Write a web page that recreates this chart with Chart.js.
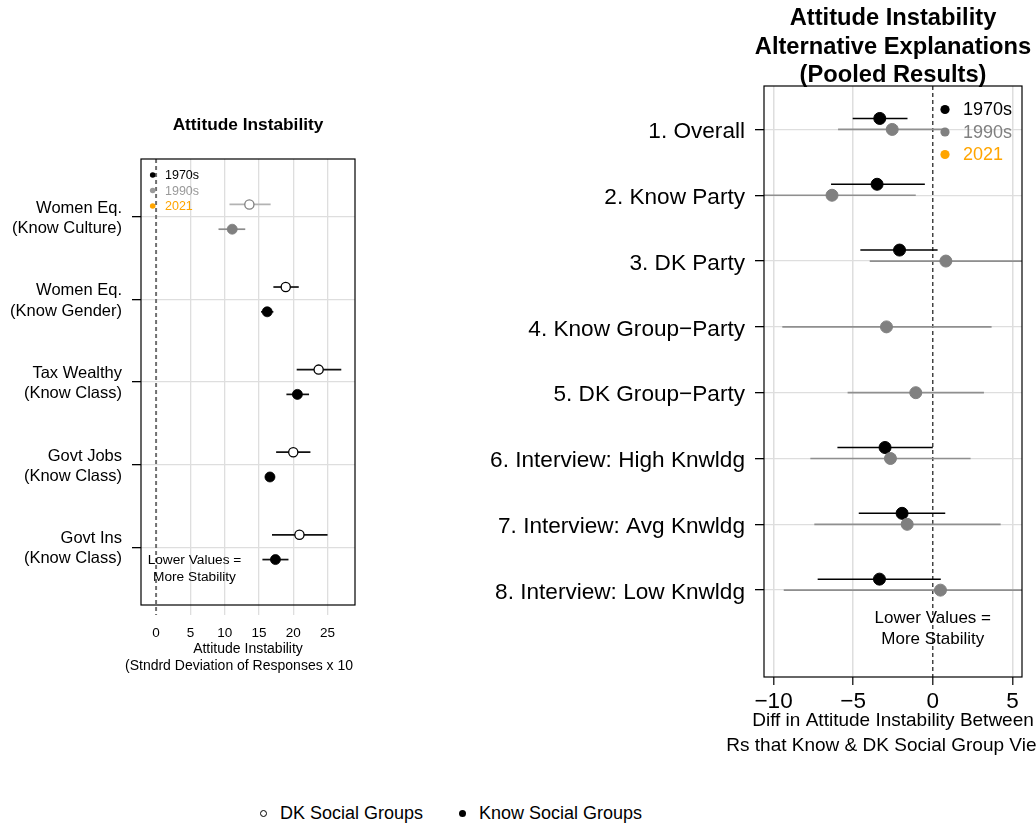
<!DOCTYPE html>
<html><head><meta charset="utf-8">
<script src="https://cdn.jsdelivr.net/npm/chart.js@4/dist/chart.umd.min.js"></script>
<style>
html,body{margin:0;padding:0;background:#fff;overflow:hidden;width:1036px;height:824px;position:relative;}
#c1{position:absolute;left:0;top:0;}
#c2{position:absolute;left:470px;top:0;}
.lg{position:absolute;font-family:'Liberation Sans',Arial,Helvetica,sans-serif;font-size:18px;line-height:20px;color:#000;white-space:nowrap;}
.dot{position:absolute;width:7px;height:7px;border-radius:50%;box-sizing:border-box;}
</style></head><body>
<canvas id="c1" width="470" height="790"></canvas>
<canvas id="c2" width="600" height="790"></canvas>
<div class="dot" style="left:259.5px;top:809.5px;border:1.3px solid #000;background:#fff;"></div>
<div class="lg" style="left:280px;top:803px;">DK Social Groups</div>
<div class="dot" style="left:459px;top:809.5px;background:#000;"></div>
<div class="lg" style="left:479px;top:803px;">Know Social Groups</div>
<script>
// ---------- DATA ----------
const leftCategories = [['Women Eq.','(Know Culture)'],['Women Eq.','(Know Gender)'],['Tax Wealthy','(Know Class)'],['Govt Jobs','(Know Class)'],['Govt Ins','(Know Class)']];
const leftEra = ['1990s','1970s','1970s','1970s','1970s'];
const leftDK     = [13.6, 18.9, 23.7, 20.0, 20.9];
const leftDKLow  = [10.7, 17.1, 20.5, 17.5, 16.9];
const leftDKHigh = [16.7, 20.8, 27.0, 22.5, 25.0];
const leftKnow     = [11.1, 16.2, 20.6, 16.6, 17.4];
const leftKnowLow  = [9.1, 15.3, 19.0, 15.9, 15.5];
const leftKnowHigh = [13.0, 17.1, 22.3, 17.3, 19.3];
const leftTicks = [0, 5, 10, 15, 20, 25];

const rightCategories = ['1. Overall','2. Know Party','3. DK Party','4. Know Group\u2212Party','5. DK Group\u2212Party','6. Interview: High Knwldg','7. Interview: Avg Knwldg','8. Interview: Low Knwldg'];
const r1970     = [-3.33, -3.50, -2.09, null, null, -3.00, -1.93, -3.35];
const r1970Low  = [-5.03, -6.39, -4.55, null, null, -5.99, -4.65, -7.23];
const r1970High = [-1.59, -0.50,  0.30, null, null,  0.00,  0.78,  0.50];
const r1990     = [-2.55, -6.33,  0.82, -2.91, -1.07, -2.66, -1.61,  0.48];
const r1990Low  = [-5.95, -11.5, -3.96, -9.45, -5.35, -7.69, -7.44, -9.36];
const r1990High = [ 0.80, -1.07,  6.50,  3.69,  3.21,  2.37,  4.26,  6.50];
const rightTicks = [-10, -5, 0, 5];
const eras = ['1970s','1990s','2021'];

// ---------- STYLE ----------
const FONT = "'Liberation Sans', Arial, Helvetica, sans-serif";
const LEFT_PT = {'1970s':'#000000','1990s':'#808080'};
const LEFT_DK_CI = {'1970s':'#111111','1990s':'#b3b3b3'};
const LEFT_KN_CI = {'1970s':'#111111','1990s':'#8c8c8c'};
const LEFT_LEG = {'1970s':'#000000','1990s':'#9a9a9a','2021':'#FFA500'};
const RIGHT_LEG = {'1970s':'#000000','1990s':'#808080','2021':'#FFA500'};
const GRID = '#dedede';

function hline(ctx, x1, x2, y, color, w) {
  ctx.beginPath(); ctx.strokeStyle = color; ctx.lineWidth = w;
  ctx.moveTo(x1, y); ctx.lineTo(x2, y); ctx.stroke();
}
function txt(ctx, s, x, y, font, color, align) {
  ctx.font = font; ctx.fillStyle = color; ctx.textAlign = align || 'center'; ctx.textBaseline = 'middle';
  ctx.fillText(s, x, y);
}

// ---------- LEFT PANEL ----------
const leftPlugin = {
  id: 'leftDeco',
  beforeDatasetsDraw(chart) {
    const {ctx, chartArea: a, scales: {x, y}} = chart;
    ctx.save();
    ctx.setLineDash([4, 3]);
    ctx.beginPath(); ctx.strokeStyle = '#707070'; ctx.lineWidth = 2;
    const x0 = x.getPixelForValue(0);
    ctx.moveTo(x0, a.top); ctx.lineTo(x0, a.bottom + 10); ctx.stroke();
    ctx.setLineDash([]);
    ctx.beginPath(); ctx.rect(a.left, a.top, a.right - a.left, a.bottom - a.top); ctx.clip();
    leftCategories.forEach((c, i) => {
      hline(ctx, x.getPixelForValue(leftDKLow[i]), x.getPixelForValue(leftDKHigh[i]), y.getPixelForValue(i - 0.15), LEFT_DK_CI[leftEra[i]], 1.7);
      hline(ctx, x.getPixelForValue(leftKnowLow[i]), x.getPixelForValue(leftKnowHigh[i]), y.getPixelForValue(i + 0.15), LEFT_KN_CI[leftEra[i]], 1.7);
    });
    ctx.restore();
  },
  afterDraw(chart) {
    const {ctx, chartArea: a} = chart;
    ctx.save();
    ctx.strokeStyle = '#000'; ctx.lineWidth = 1.2;
    ctx.strokeRect(a.left, a.top, a.right - a.left, a.bottom - a.top);
    const cx = (a.left + a.right) / 2;
    txt(ctx, 'Attitude Instability', cx, 125, 'bold 17.3px ' + FONT, '#000');
    txt(ctx, 'Attitude Instability', cx, 649, '14px ' + FONT, '#000');
    txt(ctx, '(Stndrd Deviation of Responses x 10', 125, 666, '14px ' + FONT, '#000', 'left');
    txt(ctx, 'Lower Values =', 194.5, 560, '13.7px ' + FONT, '#000');
    txt(ctx, 'More Stability', 194.5, 577, '13.7px ' + FONT, '#000');
    eras.forEach((e, k) => {
      const yy = 175 + k * 15.5;
      ctx.beginPath(); ctx.fillStyle = LEFT_LEG[e]; ctx.arc(152.7, yy, 2.8, 0, Math.PI * 2); ctx.fill();
      txt(ctx, e, 165, yy + 1, '12.5px ' + FONT, LEFT_LEG[e], 'left');
    });
    ctx.restore();
  }
};

new Chart(document.getElementById('c1'), {
  type: 'scatter',
  data: { datasets: [
    { label: 'DK Social Groups', data: leftDK.map((v, i) => ({x: v, y: i - 0.15})),
      pointRadius: 4.6, pointBorderWidth: 1.3, pointBackgroundColor: '#ffffff',
      pointBorderColor: leftEra.map(e => LEFT_PT[e]) },
    { label: 'Know Social Groups', data: leftKnow.map((v, i) => ({x: v, y: i + 0.15})),
      pointRadius: 5, pointBorderWidth: 0.8, pointBackgroundColor: leftEra.map(e => LEFT_PT[e]),
      pointBorderColor: leftEra.map(e => LEFT_PT[e]) }
  ]},
  options: {
    responsive: false, animation: false, devicePixelRatio: 1,
    layout: { padding: { left: 0, right: 115, top: 159, bottom: 0 } },
    plugins: { legend: { display: false }, tooltip: { enabled: false } },
    scales: {
      x: { type: 'linear', min: -2.2, max: 29,
        afterBuildTicks: s => { s.ticks = leftTicks.map(v => ({value: v})); },
        afterFit: s => { s.height = 185; },
        border: { display: false },
        grid: { color: c => (c.tick && c.tick.value === 0) ? 'rgba(0,0,0,0)' : GRID, lineWidth: 1.3,
                tickLength: 10, tickColor: c => (c.tick && c.tick.value === 0) ? 'rgba(0,0,0,0)' : GRID },
        ticks: { font: { family: FONT, size: 13.5 }, color: '#000', padding: 10, maxRotation: 0, autoSkip: false }
      },
      y: { type: 'linear', reverse: true, min: -0.7, max: 4.7,
        afterBuildTicks: s => { s.ticks = leftCategories.map((c, i) => ({value: i})); },
        afterFit: s => { s.width = 141; },
        border: { display: false },
        grid: { color: GRID, lineWidth: 1.3, tickLength: 9, tickColor: '#000' },
        ticks: { callback: v => leftCategories[v], font: { family: FONT, size: 16.5, lineHeight: 1.22 },
                 color: '#000', padding: 10, autoSkip: false, labelOffset: 1.5 }
      }
    }
  },
  plugins: [leftPlugin]
});

// ---------- RIGHT PANEL ----------
const rightPlugin = {
  id: 'rightDeco',
  beforeDatasetsDraw(chart) {
    const {ctx, chartArea: a, scales: {x, y}} = chart;
    ctx.save();
    ctx.setLineDash([4, 3]);
    ctx.beginPath(); ctx.strokeStyle = '#000'; ctx.lineWidth = 1.1;
    const x0 = x.getPixelForValue(0);
    ctx.moveTo(x0, a.top); ctx.lineTo(x0, a.bottom); ctx.stroke();
    ctx.setLineDash([]);
    ctx.beginPath(); ctx.rect(a.left, a.top, a.right - a.left, a.bottom - a.top); ctx.clip();
    rightCategories.forEach((c, i) => {
      if (r1990[i] !== null)
        hline(ctx, x.getPixelForValue(r1990Low[i]), x.getPixelForValue(r1990High[i]), y.getPixelForValue(i), '#8f8f8f', 1.7);
      if (r1970[i] !== null)
        hline(ctx, x.getPixelForValue(r1970Low[i]), x.getPixelForValue(r1970High[i]), y.getPixelForValue(i - 0.167), '#000', 1.5);
    });
    ctx.restore();
  },
  afterDraw(chart) {
    const {ctx, chartArea: a, scales: {x}} = chart;
    ctx.save();
    ctx.strokeStyle = '#000'; ctx.lineWidth = 1.2;
    ctx.strokeRect(a.left, a.top, a.right - a.left, a.bottom - a.top);
    const cx = (a.left + a.right) / 2;
    const tf = 'bold 23.7px ' + FONT;
    txt(ctx, 'Attitude Instability', cx, 18, tf, '#000');
    txt(ctx, 'Alternative Explanations', cx, 47, tf, '#000');
    txt(ctx, '(Pooled Results)', cx, 75, tf, '#000');
    txt(ctx, 'Diff in Attitude Instability Between', cx, 721, '19px ' + FONT, '#000');
    txt(ctx, 'Rs that Know & DK Social Group Views', cx, 746, '19px ' + FONT, '#000');
    const x0 = x.getPixelForValue(0);
    txt(ctx, 'Lower Values =', x0, 618, '17px ' + FONT, '#000');
    txt(ctx, 'More Stability', x0, 639, '17px ' + FONT, '#000');
    eras.forEach((e, k) => {
      const yy = 109.5 + k * 22.5;
      ctx.beginPath(); ctx.fillStyle = RIGHT_LEG[e]; ctx.arc(475, yy, 4.6, 0, Math.PI * 2); ctx.fill();
      txt(ctx, e, 493, yy + 1, '18px ' + FONT, RIGHT_LEG[e], 'left');
    });
    ctx.restore();
  }
};

const pts1970 = [], pts1990 = [];
rightCategories.forEach((c, i) => {
  if (r1970[i] !== null) pts1970.push({x: r1970[i], y: i - 0.167});
  if (r1990[i] !== null) pts1990.push({x: r1990[i], y: i});
});

new Chart(document.getElementById('c2'), {
  type: 'scatter',
  data: { datasets: [
    { label: '1990s', data: pts1990, pointRadius: 6, pointBorderWidth: 1, pointBackgroundColor: '#808080', pointBorderColor: '#808080' },
    { label: '1970s', data: pts1970, pointRadius: 6, pointBorderWidth: 1, pointBackgroundColor: '#000000', pointBorderColor: '#000000' }
  ]},
  options: {
    responsive: false, animation: false, devicePixelRatio: 1,
    layout: { padding: { left: 0, right: 48, top: 86, bottom: 0 } },
    plugins: { legend: { display: false }, tooltip: { enabled: false } },
    scales: {
      x: { type: 'linear', min: -10.6, max: 5.6,
        afterBuildTicks: s => { s.ticks = rightTicks.map(v => ({value: v})); },
        afterFit: s => { s.height = 113; },
        border: { display: false },
        grid: { color: c => (c.tick && c.tick.value === 0) ? 'rgba(0,0,0,0)' : GRID, lineWidth: 1.5,
                tickLength: 8, tickColor: '#333' },
        ticks: { callback: v => (v < 0 ? '\u2212' + Math.abs(v) : String(v)),
                 font: { family: FONT, size: 22.5 }, color: '#000', padding: 3, maxRotation: 0, autoSkip: false }
      },
      y: { type: 'linear', reverse: true, min: -0.66, max: 8.32,
        afterBuildTicks: s => { s.ticks = rightCategories.map((c, i) => ({value: i})); },
        afterFit: s => { s.width = 294; },
        border: { display: false },
        grid: { color: GRID, lineWidth: 1.3, tickLength: 9, tickColor: '#000' },
        ticks: { callback: v => rightCategories[v], font: { family: FONT, size: 22.6 },
                 color: '#000', padding: 10, autoSkip: false, labelOffset: 2.5 }
      }
    }
  },
  plugins: [rightPlugin]
});
</script>
</body></html>
